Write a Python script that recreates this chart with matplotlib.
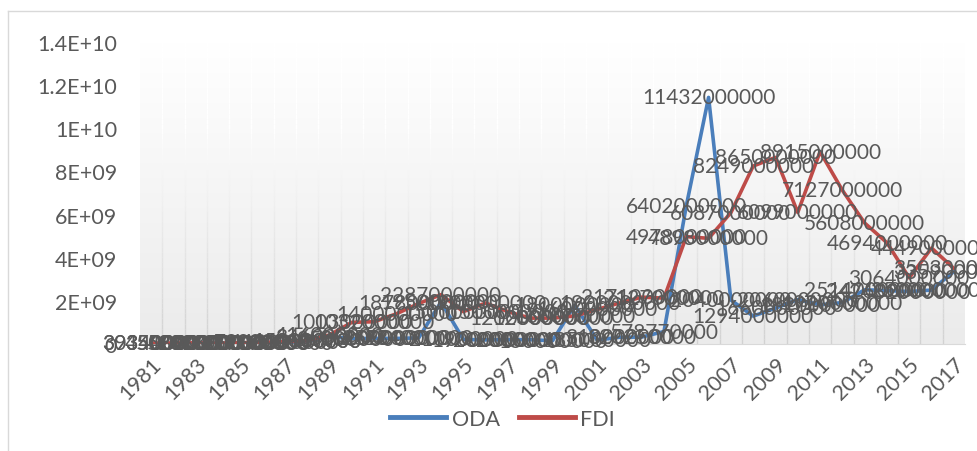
import numpy as np
import matplotlib
matplotlib.use('Agg')
import matplotlib.pyplot as plt
from matplotlib.colors import LinearSegmentedColormap
from matplotlib.collections import LineCollection
from matplotlib.lines import Line2D

plt.rcParams['font.family'] = ['Lato', 'DejaVu Sans']

years = list(range(1981, 2018))

oda = [30340000, 35000000, 48000000, 33000000, 32000000, 59000000, 69000000,
       120000000, 346000000, 250000000, 262000000, 259000000, 284000000,
       1950000000, 210000000, 190000000, 200000000, 200000000, 150000000,
       1800000000, 185000000, 310000000, 320250000, 578770000,
       6402000000, 11432000000, 2040000000, 1294000000, 1660000000,
       2060000000, 1820000000, 1920000000, 2514000000, 2476000000,
       2432000000, 2500000000, 3359000000]

fdi = [39340000, 45000000, 52000000, 41000000, 60000000, 72000000, 110000000,
       150000000, 416000000, 1003000000, 1032000000, 1400000000, 1878000000,
       2287000000, 1500000000, 1900000000, 1500000000, 1200000000, 1200000000,
       1300000000, 1600000000, 1900000000, 2171000000, 2127000000,
       4978000000, 4898000000, 6087000000, 8249000000, 8650000000,
       6099000000, 8915000000, 7127000000, 5608000000, 4694000000,
       3064000000, 4449000000, 3503000000]

yticks = [0, 2e9, 4e9, 6e9, 8e9, 1e10, 1.2e10, 1.4e10]
ytick_labels = ['0', '2E+09', '4E+09', '6E+09', '8E+09', '1E+10', '1.2E+10', '1.4E+10']

txt = '#595959'
blue = '#4a7ebb'
red = '#be4b48'

fig = plt.figure(figsize=(9.78, 4.52), dpi=100)
ax = fig.add_axes([140/978, 1 - 345/452, 825/978, 302/452])

x = np.arange(len(years))
ymax = 1.4e10

# plot area gradient, white at top to light grey at bottom
cmap = LinearSegmentedColormap.from_list('bg', ['#ffffff', '#ebebeb'])
ax.imshow(np.linspace(0, 1, 256).reshape(-1, 1), extent=[-0.5, len(years) - 0.5, 0, ymax],
          aspect='auto', cmap=cmap, origin='upper', zorder=0)

# vertical gridlines that fade out towards the top
gcmap = LinearSegmentedColormap.from_list('gl', ['#d2d2d2', '#ffffff'])
ys = np.linspace(0, ymax, 60)
for k in range(1, len(years)):
    pts = np.array([[k - 0.5, yy] for yy in ys])
    segs = np.stack([pts[:-1], pts[1:]], axis=1)
    cols = gcmap(np.clip(ys[:-1] / (0.72 * ymax), 0, 1))
    ax.add_collection(LineCollection(segs, colors=cols, linewidths=1.0, zorder=1))

ax.plot(x, oda, color=blue, lw=2.6, zorder=3, solid_capstyle='round')
ax.plot(x, fdi, color=red, lw=2.6, zorder=3, solid_capstyle='round')

for xi, v in zip(x, oda):
    ax.text(xi, v, str(v), ha='center', va='center', fontsize=15, color=txt, zorder=4)
for xi, v in zip(x, fdi):
    ax.text(xi, v, str(v), ha='center', va='center', fontsize=15, color=txt, zorder=4)

ax.set_xlim(-0.5, len(years) - 0.5)
ax.set_ylim(0, ymax)
ax.set_yticks(yticks)
ax.set_yticklabels(ytick_labels)
ax.set_xticks(x[::2])
ax.set_xticklabels([str(y) for y in years[::2]], rotation=45, ha='right',
                   va='top', rotation_mode='anchor')
ax.tick_params(axis='y', length=0, pad=16.5, labelsize=15.5, labelcolor=txt)
ax.tick_params(axis='x', length=0, pad=7, labelsize=15.5, labelcolor=txt)
for s in ['top', 'right', 'left']:
    ax.spines[s].set_visible(False)
ax.spines['bottom'].set_color('#d9d9d9')

# chart border (left and top visible)
fig.add_artist(Line2D([8/978, 8/978], [0, 1 - 12/452], color='#d9d9d9', lw=1))
fig.add_artist(Line2D([8/978, 1], [1 - 12/452, 1 - 12/452], color='#d9d9d9', lw=1))

handles = [Line2D([], [], color=blue, lw=3.5), Line2D([], [], color=red, lw=3.5)]
fig.legend(handles, ['ODA', 'FDI'], loc='center', bbox_to_anchor=(0.514, 0.071),
           ncol=2, frameon=False, fontsize=15.5, labelcolor=txt,
           handlelength=2.6, columnspacing=0.9, handletextpad=0.25)

fig.savefig('out.png', dpi=100)
